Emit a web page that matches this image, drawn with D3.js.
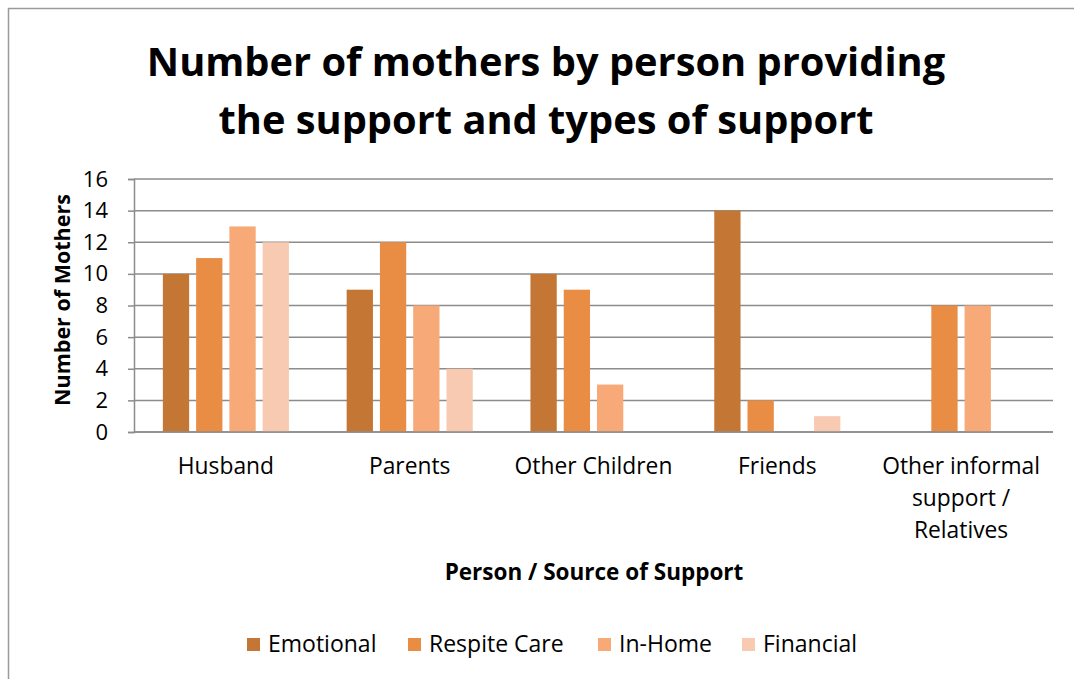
<!DOCTYPE html>
<html>
<head>
<meta charset="utf-8">
<script src="https://cdn.jsdelivr.net/npm/d3@7"></script>
<style>
  html, body { margin: 0; padding: 0; background: #fff; }
  svg { display: block; font-family: "Open Sans", "Noto Sans", sans-serif; }
</style>
</head>
<body>
<svg id="chart" width="1074" height="679"></svg>
<script>
// Support sources (x categories); multi-line labels split on "\n"
const categories = ["Husband", "Parents", "Other Children", "Friends", "Other informal\nsupport /\nRelatives"];
const seriesNames = ["Emotional", "Respite Care", "In-Home", "Financial"];
const emotional   = [10, 9, 10, 14, 0];
const respiteCare = [11, 12, 9, 2, 8];
const inHome      = [13, 8, 3, 0, 8];
const financial   = [12, 4, 0, 1, 0];
const yTicks = [0, 2, 4, 6, 8, 10, 12, 14, 16];
const colors = ["#c47734", "#e88d43", "#f7a977", "#f8cab1"];

const seriesValues = [emotional, respiteCare, inHome, financial];

const svg = d3.select("#chart");

// Outer chart frame
svg.append("rect")
  .attr("x", 8.5).attr("y", 8.5)
  .attr("width", 1200).attr("height", 800)
  .attr("fill", "none").attr("stroke", "#9a9a9a").attr("stroke-width", 1.5);

const plot = { left: 134, right: 1053, top: 179, bottom: 432 };

const x0 = d3.scaleBand()
  .domain(categories)
  .range([plot.left, plot.right])
  .paddingInner(0.276)
  .paddingOuter(0.138);

const x1 = d3.scaleBand()
  .domain(seriesNames)
  .range([0, x0.bandwidth()])
  .paddingInner(0.21)
  .paddingOuter(0.105);

const y = d3.scaleLinear().domain([0, 16]).range([plot.bottom, plot.top]);

// Horizontal gridlines
svg.append("g")
  .selectAll("line")
  .data(yTicks)
  .join("line")
  .attr("x1", plot.left).attr("x2", plot.right)
  .attr("y1", d => y(d)).attr("y2", d => y(d))
  .attr("stroke", "#8c8c8c").attr("stroke-width", 1.5);

// Bars
const groups = svg.append("g")
  .selectAll("g")
  .data(categories)
  .join("g")
  .attr("transform", c => `translate(${x0(c)},0)`);

groups.selectAll("rect")
  .data((c, ci) => seriesNames.map((s, si) => ({ s, si, v: seriesValues[si][ci] })))
  .join("rect")
  .filter(d => d.v > 0)
  .attr("x", d => x1(d.s))
  .attr("width", x1.bandwidth())
  .attr("y", d => y(d.v))
  .attr("height", d => y(0) - y(d.v))
  .attr("fill", d => colors[d.si]);

// Y axis
const yAxis = svg.append("g")
  .attr("transform", `translate(${plot.left},0)`)
  .call(d3.axisLeft(y).tickValues(yTicks).tickSize(6).tickPadding(20).tickFormat(d3.format("d")));
yAxis.select(".domain").attr("stroke", "#8c8c8c").attr("stroke-width", 1.5);
yAxis.selectAll(".tick line").attr("stroke", "#8c8c8c").attr("stroke-width", 1.5);
yAxis.selectAll(".tick text")
  .attr("fill", "#000")
  .style("font-size", "22px")
  .style("font-family", "'Open Sans', sans-serif");

// X axis baseline
svg.append("line")
  .attr("x1", plot.left).attr("x2", plot.right)
  .attr("y1", y(0)).attr("y2", y(0))
  .attr("stroke", "#8c8c8c").attr("stroke-width", 1.5);

// Category labels
const catLabels = svg.append("g")
  .selectAll("text")
  .data(categories)
  .join("text")
  .attr("x", c => x0(c) + x0.bandwidth() / 2)
  .attr("y", 474)
  .attr("text-anchor", "middle")
  .style("font-size", "22.8px")
  .attr("fill", "#000");
catLabels.selectAll("tspan")
  .data(c => c.split("\n"))
  .join("tspan")
  .attr("x", function () { return d3.select(this.parentNode).attr("x"); })
  .attr("dy", (d, i) => i === 0 ? 0 : 32)
  .text(d => d);

// Title
svg.append("text")
  .attr("text-anchor", "middle")
  .style("font-size", "39.8px").style("font-weight", "bold")
  .attr("fill", "#000")
  .selectAll("tspan")
  .data(["Number of mothers by person providing", "the support and types of support"])
  .join("tspan")
  .attr("x", 546)
  .attr("y", (d, i) => 76 + i * 58)
  .text(d => d);

// Axis titles
svg.append("text")
  .attr("transform", "translate(70,300) rotate(-90)")
  .attr("text-anchor", "middle")
  .style("font-size", "21.5px").style("font-weight", "bold")
  .attr("fill", "#000")
  .text("Number of Mothers");

svg.append("text")
  .attr("x", 594).attr("y", 580)
  .attr("text-anchor", "middle")
  .style("font-size", "22.5px").style("font-weight", "bold")
  .attr("fill", "#000")
  .text("Person / Source of Support");

// Legend
const legendX = [247, 408, 598, 742];
const legend = svg.append("g")
  .selectAll("g")
  .data(seriesNames)
  .join("g")
  .attr("transform", (d, i) => `translate(${legendX[i]},638)`);
legend.append("rect")
  .attr("width", 13).attr("height", 13)
  .attr("fill", (d, i) => colors[i]);
legend.append("text")
  .attr("x", 21).attr("y", 14)
  .style("font-size", "23px")
  .attr("fill", "#000")
  .text(d => d);
</script>
</body>
</html>
